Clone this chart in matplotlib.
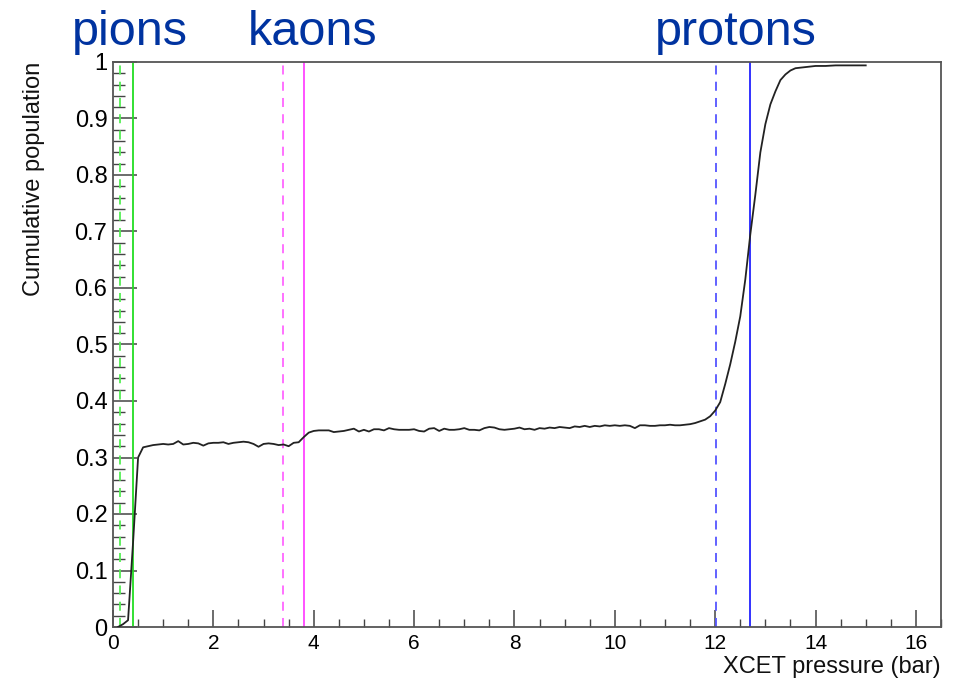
import matplotlib
matplotlib.use("Agg")
import matplotlib.pyplot as plt
from matplotlib.ticker import MultipleLocator

plt.rcParams['font.family'] = ['Liberation Sans', 'DejaVu Sans']

# Cumulative population curve
pressure = [0.1, 0.2, 0.3, 0.4, 0.5, 0.6, 0.7, 0.8,
            0.9, 1.0, 1.1, 1.2, 1.3, 1.4, 1.5, 1.6, 1.7, 1.8, 1.9, 2.0,
            2.1, 2.2, 2.3, 2.4, 2.5, 2.6, 2.7, 2.8, 2.9, 3.0,
            3.1, 3.2, 3.3, 3.4, 3.5, 3.6, 3.7, 3.8, 3.9, 4.0,
            4.1, 4.2, 4.3, 4.4, 4.5, 4.6, 4.7, 4.8, 4.9, 5.0,
            5.1, 5.2, 5.3, 5.4, 5.5, 5.6, 5.7, 5.8, 5.9, 6.0,
            6.1, 6.2, 6.3, 6.4, 6.5, 6.6, 6.7, 6.8, 6.9, 7.0,
            7.1, 7.2, 7.3, 7.4, 7.5, 7.6, 7.7, 7.8, 7.9, 8.0,
            8.1, 8.2, 8.3, 8.4, 8.5, 8.6, 8.7, 8.8, 8.9, 9.0,
            9.1, 9.2, 9.3, 9.4, 9.5, 9.6, 9.7, 9.8, 9.9, 10.0,
            10.1, 10.2, 10.3, 10.4, 10.5, 10.6, 10.7, 10.8, 10.9, 11.0,
            11.1, 11.2, 11.3, 11.4, 11.5, 11.6, 11.7, 11.8, 11.9, 12.0,
            12.1, 12.2, 12.3, 12.4, 12.5, 12.6, 12.7, 12.8, 12.9, 13.0,
            13.1, 13.2, 13.3, 13.4, 13.5, 13.6, 13.7, 13.8, 14.0, 14.2,
            14.4, 14.6, 14.8, 15.0]
population = [0.0, 0.005, 0.012, 0.15, 0.30, 0.318, 0.320, 0.322,
              0.323, 0.324, 0.323, 0.324, 0.329, 0.323, 0.324, 0.326, 0.325, 0.321, 0.325, 0.326,
              0.326, 0.327, 0.324, 0.326, 0.327, 0.328, 0.327, 0.324, 0.319, 0.324,
              0.325, 0.324, 0.322, 0.323, 0.320, 0.326, 0.327, 0.336, 0.344, 0.347,
              0.348, 0.348, 0.348, 0.345, 0.346, 0.347, 0.349, 0.351, 0.346, 0.349,
              0.346, 0.350, 0.350, 0.348, 0.352, 0.350, 0.349, 0.349, 0.349, 0.350,
              0.347, 0.346, 0.351, 0.352, 0.347, 0.351, 0.349, 0.349, 0.350, 0.352,
              0.349, 0.349, 0.348, 0.352, 0.354, 0.353, 0.350, 0.349, 0.350, 0.351,
              0.353, 0.350, 0.351, 0.349, 0.352, 0.351, 0.353, 0.352, 0.354, 0.353,
              0.352, 0.355, 0.354, 0.356, 0.354, 0.356, 0.355, 0.357, 0.356, 0.357,
              0.356, 0.357, 0.356, 0.352, 0.357, 0.357, 0.356, 0.356, 0.357, 0.357,
              0.358, 0.357, 0.357, 0.358, 0.359, 0.361, 0.364, 0.367, 0.373, 0.383,
              0.398, 0.430, 0.465, 0.505, 0.550, 0.615, 0.695, 0.765, 0.840, 0.890,
              0.925, 0.948, 0.968, 0.978, 0.985, 0.989, 0.990, 0.991, 0.993, 0.993,
              0.994, 0.994, 0.994, 0.994]

# Threshold lines (dashed, solid) per particle
particles = ["pions", "kaons", "protons"]
dashed_x = [0.14, 3.38, 12.02]
solid_x = [0.40, 3.80, 12.70]
line_colors = ["#22dd22", "#ff44ff", "#2222ff"]
dash_colors = ["#55ee55", "#ff66ff", "#5555ff"]
label_px = [72, 248, 655]

x_ticks = [0, 2, 4, 6, 8, 10, 12, 14, 16]
y_ticks = [0, 0.1, 0.2, 0.3, 0.4, 0.5, 0.6, 0.7, 0.8, 0.9, 1.0]
y_tick_labels = ["0", "0.1", "0.2", "0.3", "0.4", "0.5", "0.6", "0.7", "0.8", "0.9", "1"]

W, H = 963, 679
fig = plt.figure(figsize=(W / 100, H / 100), dpi=100)
ax = fig.add_axes([113 / W, 52 / H, 828 / W, 565 / H])

for dx, sx, lc, dc in zip(dashed_x, solid_x, line_colors, dash_colors):
    ax.axvline(dx, color=dc, lw=1.3, ls=(0, (5, 4)), zorder=2)
    ax.axvline(sx, color=lc, lw=1.3, zorder=2)

ax.plot(pressure, population, color="#222222", lw=1.3, zorder=3)

ax.set_xlim(0, 16.5)
ax.set_ylim(0, 1)
ax.set_xticks(x_ticks)
ax.set_xticklabels([str(t) for t in x_ticks])
ax.set_yticks(y_ticks)
ax.set_yticklabels(y_tick_labels)
ax.xaxis.set_minor_locator(MultipleLocator(0.5))
ax.yaxis.set_minor_locator(MultipleLocator(0.02))

ax.tick_params(axis="x", which="major", direction="in", length=12, width=1.1,
               color="#444444", labelsize=15, pad=5)
ax.tick_params(axis="x", which="minor", direction="in", length=6, width=1.0, color="#444444")
ax.tick_params(axis="y", which="major", direction="in", length=17, width=1.1,
               color="#444444", labelsize=17, pad=4)
ax.tick_params(axis="y", which="minor", direction="in", length=8.5, width=1.0, color="#444444")

for sp in ax.spines.values():
    sp.set_color("#555555")
    sp.set_linewidth(1.3)

fig.text(34 / W, 1 - 62 / H, "Cumulative population", fontsize=17, rotation=90,
         ha="center", va="top", color="#111111")
fig.text(941 / W, 1 - 673 / H, "XCET pressure (bar)", fontsize=17,
         ha="right", va="baseline", color="#111111")

for name, px in zip(particles, label_px):
    fig.text(px / W, 1 - 45 / H, name, color="#0033a0", fontsize=35,
             ha="left", va="baseline")

fig.savefig("out.png", dpi=100)
